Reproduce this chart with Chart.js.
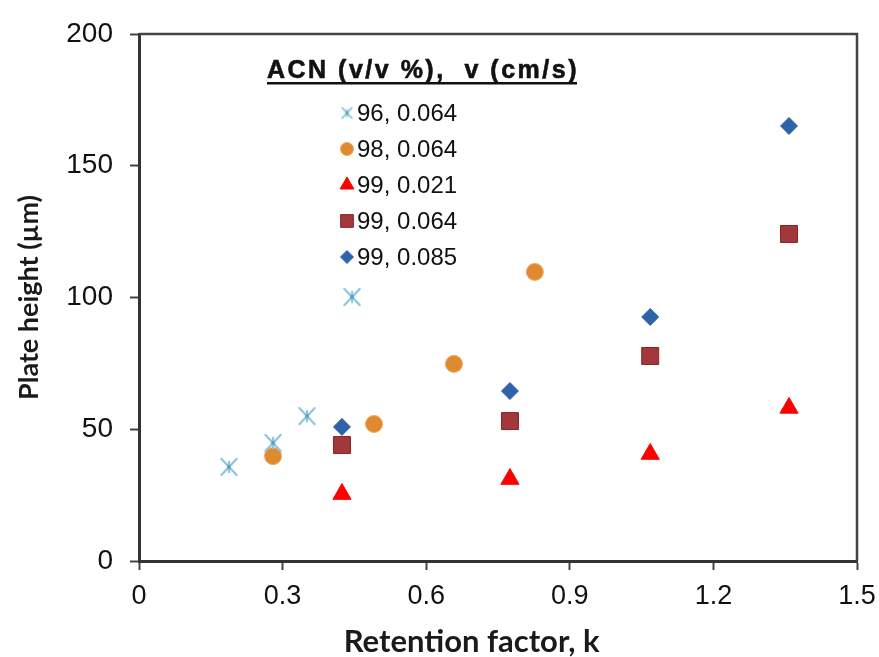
<!DOCTYPE html>
<html>
<head>
<meta charset="utf-8">
<script src="https://cdn.jsdelivr.net/npm/chart.js@4.4.1/dist/chart.umd.min.js"></script>
<style>
  html, body { margin: 0; padding: 0; background: #fff; }
</style>
</head>
<body>
<canvas id="plateChart" width="879" height="657"></canvas>
<script>
// series values: retention factor k vs plate height (um)
const seriesLabels = ['96, 0.064', '98, 0.064', '99, 0.021', '99, 0.064', '99, 0.085'];
const k96 = [0.188, 0.280, 0.351, 0.445];
const h96 = [35.7, 44.8, 55.0, 100.2];
const k98 = [0.280, 0.491, 0.658, 0.827];
const h98 = [39.8, 52.0, 74.8, 109.7];
const k99 = [0.424, 0.775, 1.068, 1.358];
const h99_021 = [25.4, 31.1, 40.6, 58.1];
const h99_064 = [44.0, 53.1, 77.8, 124.1];
const h99_085 = [50.9, 64.5, 92.6, 165.1];
const xTicks = [0, 0.3, 0.6, 0.9, 1.2, 1.5];
const yTicks = [0, 50, 100, 150, 200];

const legendTitle = 'ACN (v/v %),  v (cm/s)';

function pairs(xs, ys) {
  return xs.map((x, i) => ({ x: x, y: ys[i] }));
}

/* asterisk marker like the excel "star" */
function makeStar(size, lw) {
  const c = document.createElement('canvas');
  c.width = c.height = size;
  const g = c.getContext('2d');
  const m = size / 2, r = size / 2 - 1.5;
  g.strokeStyle = '#8cc6da';
  g.lineWidth = lw;
  g.lineCap = 'round';
  g.beginPath();
  g.moveTo(m - r * 0.8, m - r * 0.85); g.lineTo(m + r * 0.8, m + r * 0.85);
  g.moveTo(m + r * 0.8, m - r * 0.85); g.lineTo(m - r * 0.8, m + r * 0.85);
  g.moveTo(m, m - r * 0.55); g.lineTo(m, m + r * 0.55);
  g.stroke();
  g.fillStyle = '#5a9fbd';
  g.beginPath(); g.arc(m, m, lw * 0.9, 0, Math.PI * 2); g.fill();
  return c;
}
const starBig = makeStar(22, 2.2);
const starSmall = makeStar(15, 1.8);

const ctx = document.getElementById('plateChart').getContext('2d');

const legendMarks = [
  { style: starSmall, radius: 7 },
  { style: 'circle', radius: 6.5 },
  { style: 'triangle', radius: 8 },
  { style: 'rect', radius: 9 },
  { style: 'rectRot', radius: 6.5 }
];

const insideLegend = {
  id: 'insideLegend',
  afterDraw(chart) {
    const c = chart.ctx;
    c.save();
    c.fillStyle = '#111';
    c.font = 'bold 25px "Liberation Sans", Arial, sans-serif';
    c.letterSpacing = '2.5px';
    c.textBaseline = 'alphabetic';
    c.fillText(legendTitle, 267, 78);
    c.strokeStyle = '#111';
    c.lineWidth = 0.6;
    c.strokeText(legendTitle, 267, 78);
    const w = c.measureText(legendTitle).width;
    c.fillRect(267, 82, w - 2, 2.5);
    c.letterSpacing = '0px';
    c.font = '24px "Liberation Sans", Arial, sans-serif';
    c.textBaseline = 'middle';
    chart.data.datasets.forEach((ds, i) => {
      const y = 113 + i * 36;
      c.fillStyle = ds.backgroundColor;
      c.strokeStyle = ds.borderColor;
      c.lineWidth = 1;
      Chart.helpers.drawPoint(c, { pointStyle: legendMarks[i].style, radius: legendMarks[i].radius, borderWidth: 1, rotation: 0 }, 347, y);
      c.fillStyle = '#111';
      c.fillText(ds.label, 357, y + 1);
    });
    c.restore();
  }
};

/* top + right frame of the plot area */
const plotFrame = {
  id: 'plotFrame',
  beforeDatasetsDraw(chart) {
    const a = chart.chartArea;
    const c = chart.ctx;
    c.save();
    c.strokeStyle = '#444';
    c.lineWidth = 2.5;
    c.beginPath();
    c.moveTo(a.left, a.top);
    c.lineTo(a.right, a.top);
    c.lineTo(a.right, a.bottom);
    c.stroke();
    c.restore();
  }
};

const plateChart = new Chart(ctx, {
  type: 'scatter',
  data: {
    datasets: [{
      label: seriesLabels[0],
      data: pairs(k96, h96),
      pointStyle: starBig,
      backgroundColor: '#8cc6da',
      borderColor: '#8cc6da'
    }, {
      label: seriesLabels[1],
      data: pairs(k98, h98),
      pointStyle: 'circle',
      pointRadius: 8.5,
      backgroundColor: '#e08a30',
      borderColor: '#f0a860',
      borderWidth: 1
    }, {
      label: seriesLabels[2],
      data: pairs(k99, h99_021),
      pointStyle: 'triangle',
      pointRadius: 10.5,
      backgroundColor: '#ff0000',
      borderColor: '#ff0000',
      borderWidth: 1
    }, {
      label: seriesLabels[3],
      data: pairs(k99, h99_064),
      pointStyle: 'rect',
      pointRadius: 12,
      backgroundColor: '#a3383a',
      borderColor: '#8a2224',
      borderWidth: 1
    }, {
      label: seriesLabels[4],
      data: pairs(k99, h99_085),
      pointStyle: 'rectRot',
      pointRadius: 8.5,
      backgroundColor: '#2f63a9',
      borderColor: '#2f63a9',
      borderWidth: 1
    }]
  },
  options: {
    responsive: false,
    animation: false,
    devicePixelRatio: 1,
    layout: { padding: { top: 34, right: 22, left: 0, bottom: 0 } },
    plugins: {
      legend: { display: false },
      tooltip: { enabled: false }
    },
    scales: {
      x: {
        type: 'linear',
        min: 0,
        max: 1.5,
        afterBuildTicks: s => { s.ticks = xTicks.map(v => ({ value: v })); },
        afterFit: s => { s.height = 96; s.paddingRight = 0; },
        ticks: {
          color: '#111',
          padding: 10,
          maxRotation: 0,
          font: { family: '"Liberation Sans", sans-serif', size: 27 },
          callback: v => String(v)
        },
        grid: { drawOnChartArea: false, drawTicks: true, tickLength: 9, tickColor: '#444', tickWidth: 2 },
        border: { display: true, color: '#333', width: 3 },
        title: {
          display: true,
          // trailing spaces nudge the centred title left, as in the original
          text: 'Retention factor, k\u00a0\u00a0\u00a0\u00a0\u00a0\u00a0\u00a0',
          color: '#1a1a1a',
          padding: { top: 0, bottom: 0 },
          font: { family: 'Lato, "Open Sans", sans-serif', size: 31, weight: 'bold', lineHeight: 1.0 }
        }
      },
      y: {
        min: 0,
        max: 200,
        afterBuildTicks: s => { s.ticks = yTicks.map(v => ({ value: v })); },
        afterFit: s => { s.width = 139; },
        ticks: {
          color: '#111',
          padding: 17,
          font: { family: '"Liberation Sans", Arial, sans-serif', size: 28 }
        },
        grid: { drawOnChartArea: false, drawTicks: true, tickLength: 9, tickColor: '#444', tickWidth: 2 },
        border: { display: true, color: '#333', width: 3 },
        title: {
          display: true,
          text: 'Plate height (µm)',
          color: '#1a1a1a',
          padding: { top: 13, bottom: 0 },
          font: { family: 'Lato, "Open Sans", sans-serif', size: 27, weight: 'bold' }
        }
      }
    }
  },
  plugins: [plotFrame, insideLegend]
});
</script>
</body>
</html>
